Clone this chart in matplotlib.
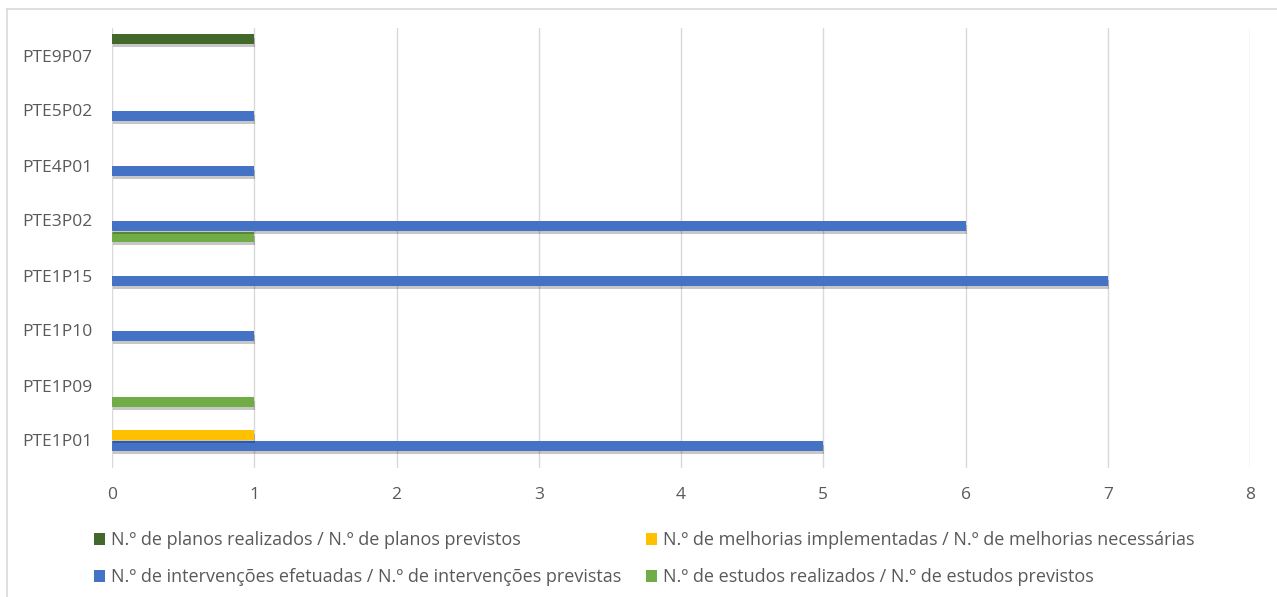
import matplotlib
matplotlib.use("Agg")
import matplotlib.pyplot as plt
import matplotlib.patheffects as pe
from matplotlib.patches import Patch
import numpy as np

categories = ["PTE1P01", "PTE1P09", "PTE1P10", "PTE1P15", "PTE3P02", "PTE4P01", "PTE5P02", "PTE9P07"]
planos = [0, 0, 0, 0, 0, 0, 0, 1]
melhorias = [1, 0, 0, 0, 0, 0, 0, 0]
intervencoes = [5, 0, 1, 7, 6, 1, 1, 0]
estudos = [0, 1, 0, 0, 1, 0, 0, 0]

labels = {
    "planos": "N.º de planos realizados / N.º de planos previstos",
    "melhorias": "N.º de melhorias implementadas / N.º de melhorias necessárias",
    "intervencoes": "N.º de intervenções efetuadas / N.º de intervenções previstas",
    "estudos": "N.º de estudos realizados / N.º de estudos previstos",
}
colors = {"planos": "#43682b", "melhorias": "#FFC000", "intervencoes": "#4472C4", "estudos": "#70AD47"}

plt.rcParams['font.family'] = ['Open Sans', 'DejaVu Sans']
txt = "#595959"

fig = plt.figure(figsize=(12.77, 5.97), dpi=100)
ax = fig.add_axes([112/1277, 1-468/597, (1250-112)/1277, (468-28)/597])

y = np.arange(len(categories))
h = 0.165
shadow = [pe.SimplePatchShadow(offset=(0.8, -2.2), shadow_rgbFace="#000000", alpha=0.22), pe.Normal()]
series = [("estudos", estudos, -0.3), ("intervencoes", intervencoes, -0.1),
          ("melhorias", melhorias, 0.1), ("planos", planos, 0.3)]
for key, vals, off in series:
    bars = ax.barh(y + off, vals, height=h, color=colors[key], zorder=3)
    for b in bars:
        b.set_path_effects(shadow)

ax.set_xlim(0, 8)
ax.set_ylim(-0.5, 7.5)
ax.set_xticks(range(0, 9))
ax.set_yticks(y)
ax.set_yticklabels(categories)
ax.tick_params(axis='both', length=0, colors=txt, labelsize=12.5)
ax.tick_params(axis='x', pad=14)
ax.tick_params(axis='y', pad=14)
for s in ax.spines.values():
    s.set_visible(False)
ax.grid(axis='x', color="#d9d9d9", linewidth=1, zorder=0)
ax.set_axisbelow(True)

order = ["planos", "intervencoes", "melhorias", "estudos"]
leg_handles = [Patch(facecolor=colors[k], edgecolor='none') for k in order]
leg = fig.legend(leg_handles, [labels[k] for k in order],
                 ncol=2, loc='upper left', bbox_to_anchor=(78/1277, 1-515/597),
                 frameon=False, handlelength=0.6, handleheight=0.6, handletextpad=0.35,
                 columnspacing=1.35, labelspacing=1.05, fontsize=13.0, labelcolor=txt)

# figure border (left and top)
fig.add_artist(plt.Line2D([7/1277, 7/1277], [0, 1-9/597], color="#d9d9d9", lw=1.2, transform=fig.transFigure))
fig.add_artist(plt.Line2D([7/1277, 1], [1-9/597, 1-9/597], color="#d9d9d9", lw=1.2, transform=fig.transFigure))

fig.savefig("out.png", dpi=100)
